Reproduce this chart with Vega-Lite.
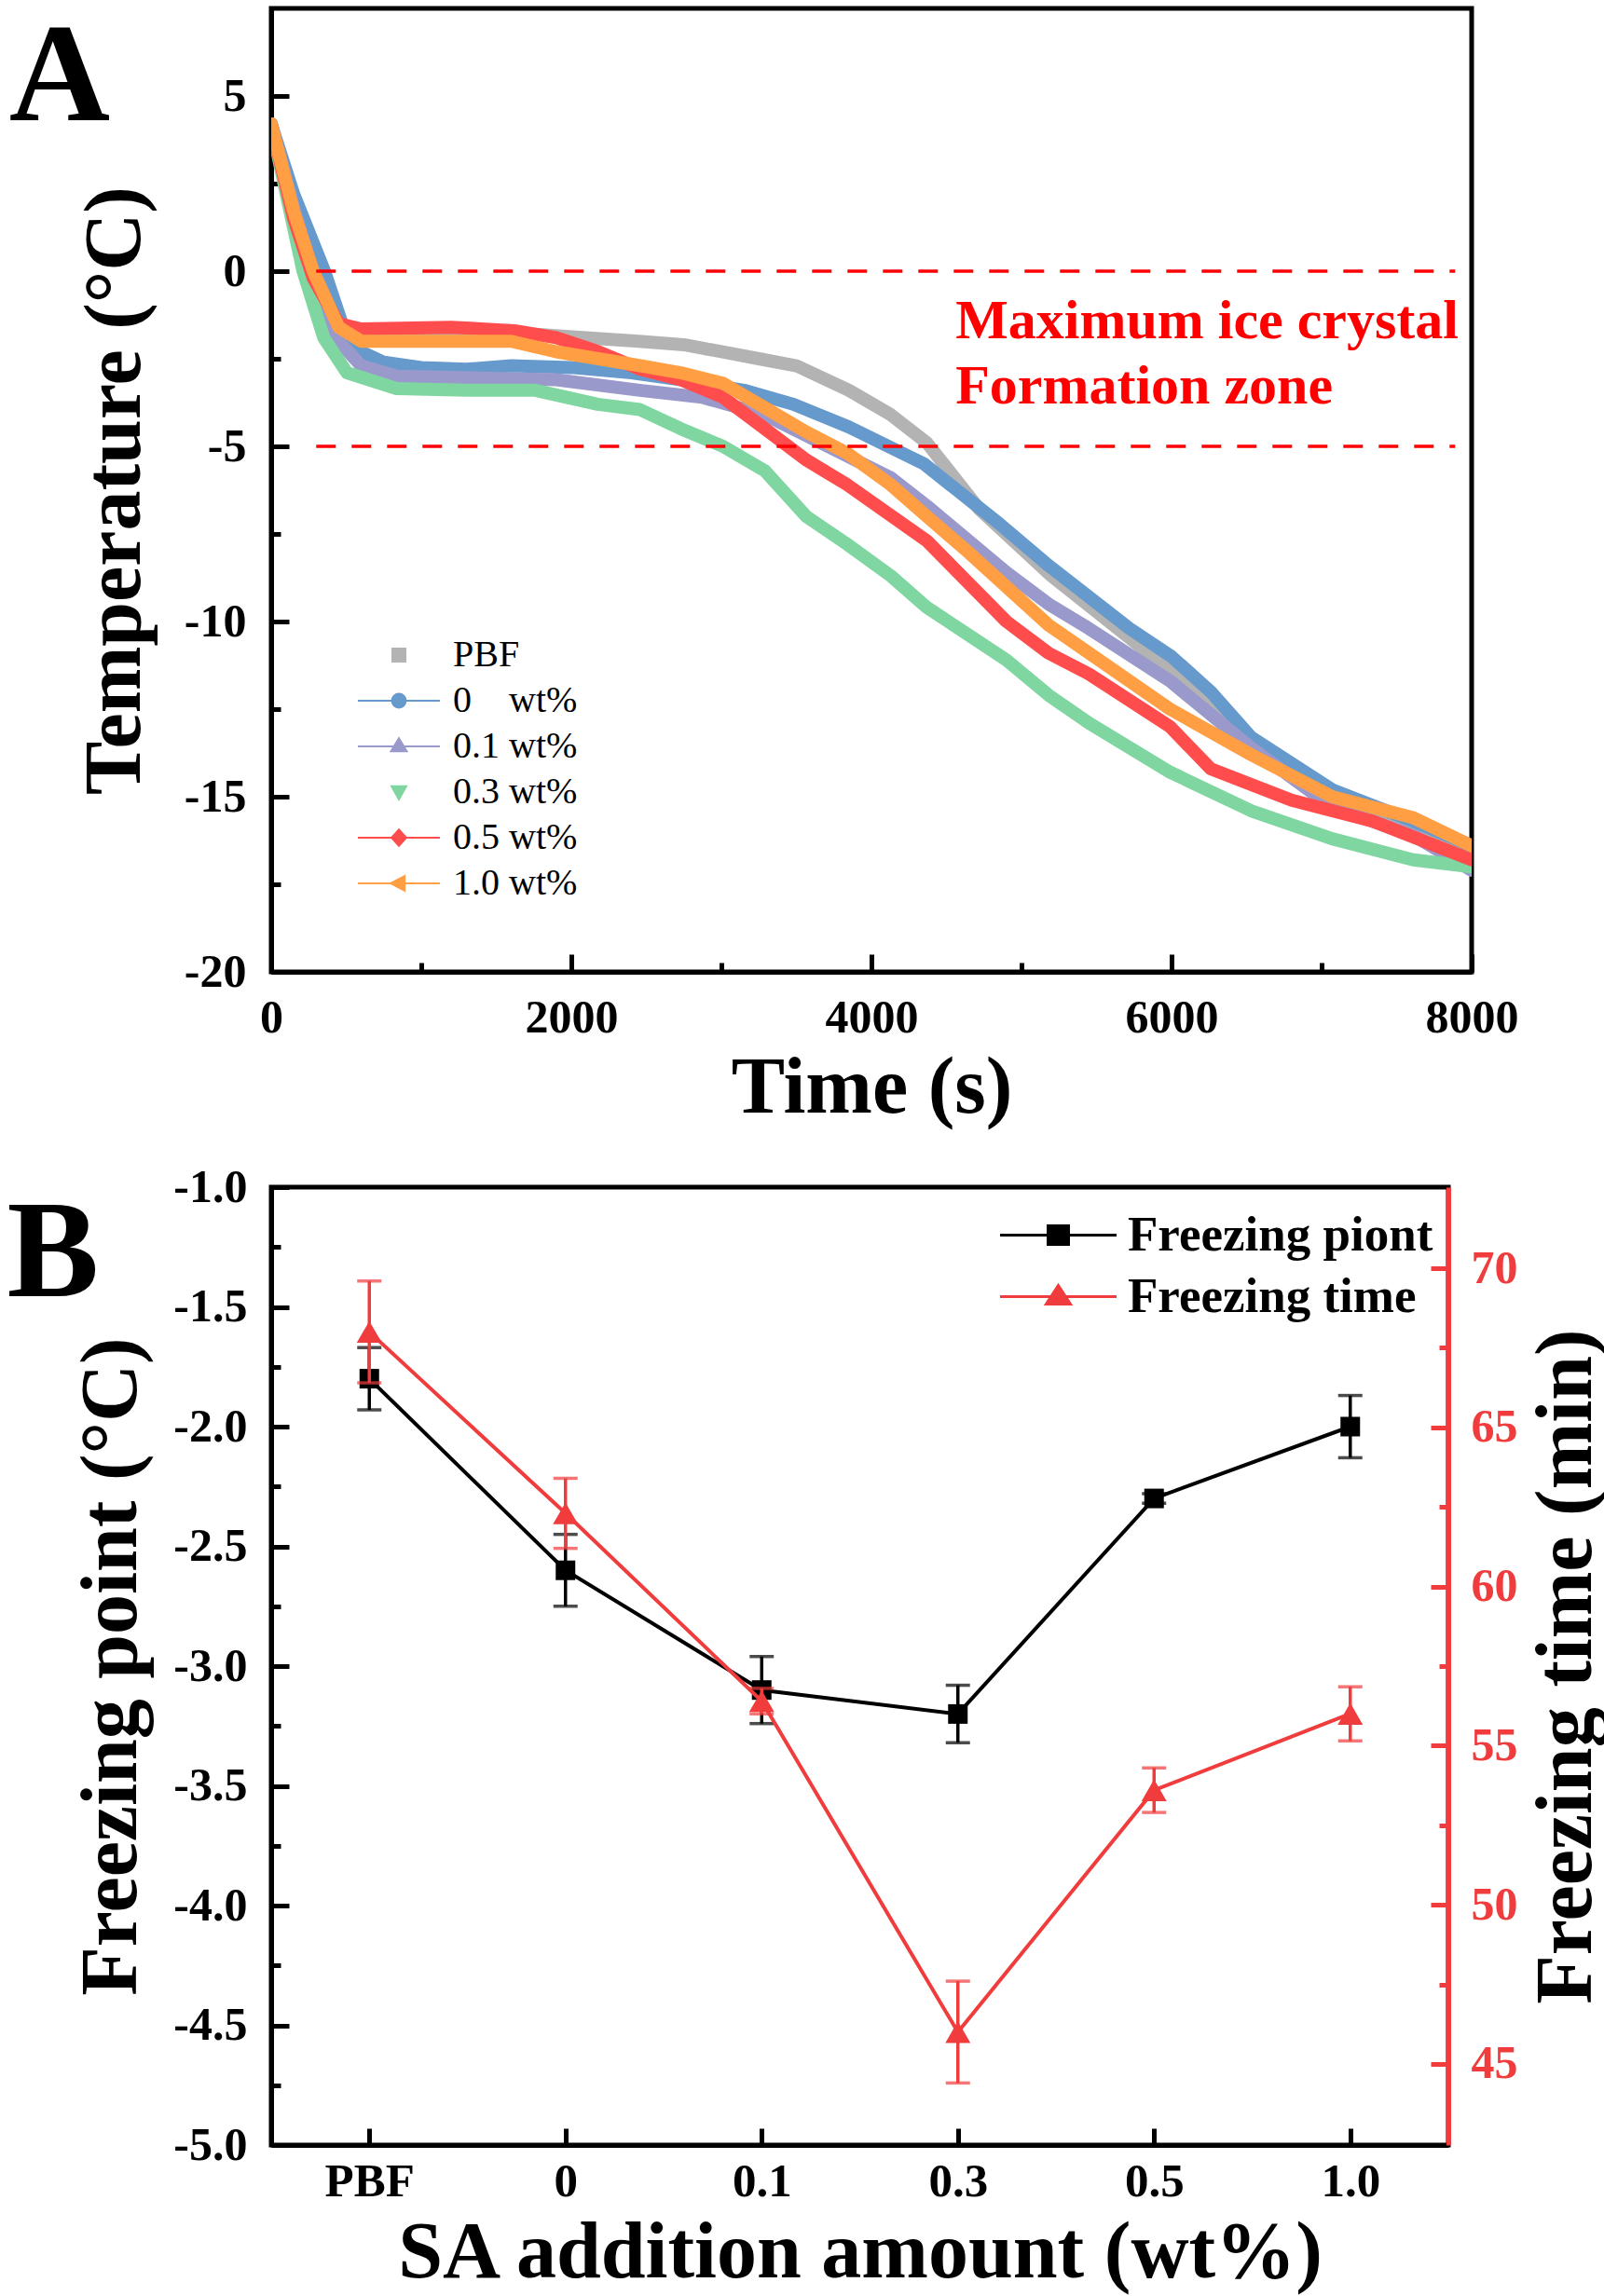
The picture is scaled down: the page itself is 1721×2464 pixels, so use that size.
{
  "$schema": "https://vega.github.io/schema/vega-lite/v6.json",
  "background": "white",
  "padding": {"left": 4, "top": 6, "right": 0, "bottom": 0},
  "spacing": 33,
  "config": {
    "font": "Liberation Serif",
    "view": {"stroke": "black", "strokeWidth": 5},
    "axis": {
      "grid": false, "labelFont": "Liberation Serif", "titleFont": "Liberation Serif",
      "labelFontWeight": "bold", "titleFontWeight": "bold", "labelColor": "black", "titleColor": "black",
      "domainColor": "black", "tickColor": "black", "labelFlush": false, "labelOverlap": false, "zindex": 1
    },
    "legend": {"labelLimit": 1000}
  },
  "resolve": {"scale": {"color": "independent"}, "legend": {"color": "independent"}},
  "vconcat": [
    {
      "width": 1288,
      "height": 1034,
      "title": {"text": "A", "orient": "left", "anchor": "end", "angle": 0, "align": "right", "baseline": "alphabetic", "fontSize": 150, "fontWeight": "bold", "font": "Liberation Serif", "color": "black", "offset": -146, "dy": 120},
      "data": {"values": [
        {"s":"PBF","t":0,"T":4.2},{"s":"PBF","t":150,"T":1.6},{"s":"PBF","t":300,"T":-0.5},{"s":"PBF","t":450,"T":-1.6},{"s":"PBF","t":600,"T":-1.9},{"s":"PBF","t":1000,"T":-1.85},{"s":"PBF","t":1400,"T":-1.8},{"s":"PBF","t":1760,"T":-1.8},{"s":"PBF","t":2100,"T":-1.9},{"s":"PBF","t":2450,"T":-2.0},{"s":"PBF","t":2750,"T":-2.1},{"s":"PBF","t":3000,"T":-2.3},{"s":"PBF","t":3250,"T":-2.5},{"s":"PBF","t":3500,"T":-2.7},{"s":"PBF","t":3850,"T":-3.4},{"s":"PBF","t":4130,"T":-4.1},{"s":"PBF","t":4370,"T":-4.9},{"s":"PBF","t":4720,"T":-6.8},{"s":"PBF","t":5200,"T":-8.7},{"s":"PBF","t":5700,"T":-10.4},{"s":"PBF","t":6250,"T":-12.3},{"s":"PBF","t":6550,"T":-13.5},{"s":"PBF","t":7050,"T":-14.9},{"s":"PBF","t":7600,"T":-15.8},{"s":"PBF","t":8000,"T":-16.6},
        {"s":"0 wt%","t":0,"T":4.2},{"s":"0 wt%","t":150,"T":2.2},{"s":"0 wt%","t":355,"T":0},{"s":"0 wt%","t":480,"T":-1.6},{"s":"0 wt%","t":600,"T":-2.3},{"s":"0 wt%","t":750,"T":-2.6},{"s":"0 wt%","t":1000,"T":-2.75},{"s":"0 wt%","t":1300,"T":-2.8},{"s":"0 wt%","t":1600,"T":-2.7},{"s":"0 wt%","t":2000,"T":-2.75},{"s":"0 wt%","t":2400,"T":-2.9},{"s":"0 wt%","t":2731,"T":-3.1},{"s":"0 wt%","t":3150,"T":-3.4},{"s":"0 wt%","t":3480,"T":-3.8},{"s":"0 wt%","t":3850,"T":-4.45},{"s":"0 wt%","t":4350,"T":-5.5},{"s":"0 wt%","t":4850,"T":-7.2},{"s":"0 wt%","t":5180,"T":-8.4},{"s":"0 wt%","t":5720,"T":-10.2},{"s":"0 wt%","t":6000,"T":-11.0},{"s":"0 wt%","t":6260,"T":-12.0},{"s":"0 wt%","t":6530,"T":-13.3},{"s":"0 wt%","t":7070,"T":-14.8},{"s":"0 wt%","t":7610,"T":-15.7},{"s":"0 wt%","t":8000,"T":-16.4},
        {"s":"0.1 wt%","t":0,"T":4.2},{"s":"0.1 wt%","t":150,"T":1.8},{"s":"0.1 wt%","t":300,"T":-0.4},{"s":"0.1 wt%","t":450,"T":-2.0},{"s":"0.1 wt%","t":600,"T":-2.7},{"s":"0.1 wt%","t":836,"T":-3.0},{"s":"0.1 wt%","t":1400,"T":-3.05},{"s":"0.1 wt%","t":1900,"T":-3.1},{"s":"0.1 wt%","t":2456,"T":-3.4},{"s":"0.1 wt%","t":2870,"T":-3.6},{"s":"0.1 wt%","t":3290,"T":-4.1},{"s":"0.1 wt%","t":3710,"T":-5.0},{"s":"0.1 wt%","t":4130,"T":-5.9},{"s":"0.1 wt%","t":4370,"T":-6.7},{"s":"0.1 wt%","t":4900,"T":-8.6},{"s":"0.1 wt%","t":5180,"T":-9.5},{"s":"0.1 wt%","t":5450,"T":-10.2},{"s":"0.1 wt%","t":5990,"T":-11.7},{"s":"0.1 wt%","t":6530,"T":-13.6},{"s":"0.1 wt%","t":7070,"T":-15.3},{"s":"0.1 wt%","t":7610,"T":-16.1},{"s":"0.1 wt%","t":8000,"T":-17.1},
        {"s":"0.3 wt%","t":0,"T":4.2},{"s":"0.3 wt%","t":100,"T":2.2},{"s":"0.3 wt%","t":212,"T":0},{"s":"0.3 wt%","t":350,"T":-1.9},{"s":"0.3 wt%","t":505,"T":-2.9},{"s":"0.3 wt%","t":836,"T":-3.35},{"s":"0.3 wt%","t":1300,"T":-3.4},{"s":"0.3 wt%","t":1760,"T":-3.4},{"s":"0.3 wt%","t":2176,"T":-3.8},{"s":"0.3 wt%","t":2456,"T":-3.95},{"s":"0.3 wt%","t":2731,"T":-4.5},{"s":"0.3 wt%","t":3011,"T":-5.0},{"s":"0.3 wt%","t":3290,"T":-5.7},{"s":"0.3 wt%","t":3566,"T":-7.0},{"s":"0.3 wt%","t":3840,"T":-7.8},{"s":"0.3 wt%","t":4130,"T":-8.7},{"s":"0.3 wt%","t":4370,"T":-9.6},{"s":"0.3 wt%","t":4900,"T":-11.1},{"s":"0.3 wt%","t":5180,"T":-12.1},{"s":"0.3 wt%","t":5450,"T":-12.9},{"s":"0.3 wt%","t":5990,"T":-14.3},{"s":"0.3 wt%","t":6530,"T":-15.4},{"s":"0.3 wt%","t":7070,"T":-16.2},{"s":"0.3 wt%","t":7610,"T":-16.8},{"s":"0.3 wt%","t":8000,"T":-17.0},
        {"s":"0.5 wt%","t":0,"T":4.2},{"s":"0.5 wt%","t":150,"T":1.5},{"s":"0.5 wt%","t":280,"T":-0.2},{"s":"0.5 wt%","t":450,"T":-1.5},{"s":"0.5 wt%","t":600,"T":-1.65},{"s":"0.5 wt%","t":1200,"T":-1.6},{"s":"0.5 wt%","t":1620,"T":-1.7},{"s":"0.5 wt%","t":1900,"T":-1.9},{"s":"0.5 wt%","t":2180,"T":-2.3},{"s":"0.5 wt%","t":2460,"T":-2.8},{"s":"0.5 wt%","t":2730,"T":-3.1},{"s":"0.5 wt%","t":3010,"T":-3.6},{"s":"0.5 wt%","t":3290,"T":-4.5},{"s":"0.5 wt%","t":3570,"T":-5.4},{"s":"0.5 wt%","t":3840,"T":-6.1},{"s":"0.5 wt%","t":4370,"T":-7.7},{"s":"0.5 wt%","t":4900,"T":-10.0},{"s":"0.5 wt%","t":5180,"T":-10.9},{"s":"0.5 wt%","t":5450,"T":-11.5},{"s":"0.5 wt%","t":5990,"T":-13.0},{"s":"0.5 wt%","t":6260,"T":-14.2},{"s":"0.5 wt%","t":6800,"T":-15.1},{"s":"0.5 wt%","t":7340,"T":-15.7},{"s":"0.5 wt%","t":8000,"T":-16.8},
        {"s":"1.0 wt%","t":0,"T":4.2},{"s":"1.0 wt%","t":150,"T":1.7},{"s":"1.0 wt%","t":280,"T":0},{"s":"1.0 wt%","t":450,"T":-1.6},{"s":"1.0 wt%","t":600,"T":-2.0},{"s":"1.0 wt%","t":1000,"T":-2.0},{"s":"1.0 wt%","t":1600,"T":-2.0},{"s":"1.0 wt%","t":1900,"T":-2.3},{"s":"1.0 wt%","t":2460,"T":-2.7},{"s":"1.0 wt%","t":2730,"T":-2.9},{"s":"1.0 wt%","t":3010,"T":-3.2},{"s":"1.0 wt%","t":3290,"T":-3.9},{"s":"1.0 wt%","t":3570,"T":-4.6},{"s":"1.0 wt%","t":3840,"T":-5.2},{"s":"1.0 wt%","t":4130,"T":-6.1},{"s":"1.0 wt%","t":4370,"T":-7.0},{"s":"1.0 wt%","t":4640,"T":-8.0},{"s":"1.0 wt%","t":5180,"T":-10.1},{"s":"1.0 wt%","t":5990,"T":-12.5},{"s":"1.0 wt%","t":6530,"T":-13.8},{"s":"1.0 wt%","t":7070,"T":-15.0},{"s":"1.0 wt%","t":7610,"T":-15.6},{"s":"1.0 wt%","t":8000,"T":-16.4}
      ]},
      "layer": [
        {
          "mark": {"type": "line", "strokeWidth": 14, "strokeCap": "round", "strokeJoin": "round", "clip": true},
          "encoding": {
            "x": {"field": "t", "type": "quantitative", "scale": {"domain": [0, 8000], "nice": false, "zero": false},
              "axis": {"orient": "bottom", "values": [0, 2000, 4000, 6000, 8000], "title": "Time (s)", "titleFontSize": 86, "labelFontSize": 50, "tickSize": -19, "tickWidth": 5, "domainWidth": 5, "labelPadding": 43, "titlePadding": 8, "format": "d"}},
            "y": {"field": "T", "type": "quantitative", "scale": {"domain": [-20, 7.5], "nice": false, "zero": false},
              "axis": {"orient": "left", "values": [-20, -15, -10, -5, 0, 5], "labelExpr": "(datum.value < 0 ? '-' : '') + abs(datum.value)", "title": "Temperature (°C)", "titleFontSize": 86, "labelFontSize": 50, "tickSize": -19, "tickWidth": 5, "domainWidth": 5, "labelPadding": 46, "titlePadding": 30}},
            "color": {"field": "s", "type": "nominal",
              "scale": {"domain": ["PBF", "0 wt%", "0.1 wt%", "0.3 wt%", "0.5 wt%", "1.0 wt%"], "range": ["#b3b3b3", "#6699cc", "#9999cc", "#7fd6a0", "#ff4d4d", "#ff9e42"]},
              "legend": {
                "orient": "none", "legendX": 117, "legendY": 674, "title": null, "symbolSize": 1239, "labelOffset": 38,
                "labelFontSize": 40, "labelFont": "Liberation Serif", "labelFontWeight": "normal", "labelColor": "black", "rowPadding": 9, "labelLimit": 1000,
                "labelExpr": "datum.label === '0 wt%' ? '0\u00a0\u00a0\u00a0 wt%' : datum.label",
                "encode": {"symbols": {"update": {
                  "shape": {"signal": "datum.value === 'PBF' ? 'M-0.4,-0.4H0.4V0.4H-0.4Z' : datum.value === '0 wt%' ? 'M-2.5,0H2.5M0.42,0A0.42,0.42,0,1,1,-0.42,0A0.42,0.42,0,1,1,0.42,0Z' : datum.value === '0.1 wt%' ? 'M-2.5,0H2.5M0,-0.5L0.48,0.3H-0.48Z' : datum.value === '0.3 wt%' ? 'M-0.45,-0.35H0.45L0,0.45Z' : datum.value === '0.5 wt%' ? 'M-2.5,0H2.5M0,-0.5L0.45,0L0,0.5L-0.45,0Z' : 'M-2.5,0H2.5M-0.5,0L0.35,-0.45V0.45Z'"},
                  "fill": {"signal": "datum.value === 'PBF' ? '#b3b3b3' : datum.value === '0 wt%' ? '#6699cc' : datum.value === '0.1 wt%' ? '#9999cc' : datum.value === '0.3 wt%' ? '#7fd6a0' : datum.value === '0.5 wt%' ? '#ff4d4d' : '#ff9e42'"},
                  "stroke": {"signal": "datum.value === 'PBF' ? '#b3b3b3' : datum.value === '0 wt%' ? '#6699cc' : datum.value === '0.1 wt%' ? '#9999cc' : datum.value === '0.3 wt%' ? '#7fd6a0' : datum.value === '0.5 wt%' ? '#ff4d4d' : '#ff9e42'"},
                  "strokeWidth": {"value": 2},
                  "opacity": {"value": 1}
                }}}
              }}
          }
        },
        {
          "data": {"values": [{"T": 0}, {"T": -5}]},
          "mark": {"type": "rule", "color": "#ff0000", "strokeWidth": 3.5, "strokeDash": [21, 17]},
          "encoding": {
            "x": {"datum": 300, "type": "quantitative", "scale": {"domain": [0, 8000], "nice": false, "zero": false},
              "axis": {"orient": "bottom", "values": [1000, 3000, 5000, 7000], "labels": false, "domain": false, "title": null, "tickSize": -10, "tickWidth": 5}},
            "x2": {"datum": 7890},
            "y": {"field": "T", "type": "quantitative", "scale": {"domain": [-20, 7.5], "nice": false, "zero": false},
              "axis": {"orient": "left", "values": [-17.5, -12.5, -7.5, -2.5, 2.5], "labels": false, "domain": false, "title": null, "tickSize": -10, "tickWidth": 5}}
          }
        },
        {
          "data": {"values": [{"note": "Maximum ice crystal\nFormation zone"}]},
          "mark": {"type": "text", "font": "Liberation Serif", "fontSize": 60, "fontWeight": "bold", "color": "#ff0000", "align": "left", "baseline": "alphabetic", "lineBreak": "\n", "lineHeight": 70},
          "encoding": {
            "text": {"field": "note"},
            "x": {"datum": 4560, "type": "quantitative", "scale": {"domain": [0, 8000], "nice": false, "zero": false}, "axis": null},
            "y": {"datum": -1.91, "type": "quantitative", "scale": {"domain": [-20, 7.5], "nice": false, "zero": false}, "axis": null}
          }
        }
      ],
      "resolve": {"axis": {"x": "independent", "y": "independent"}}
    },
    {
      "width": 1263,
      "height": 1028,
      "title": {"text": "B", "orient": "left", "anchor": "end", "angle": 0, "align": "right", "baseline": "alphabetic", "fontSize": 148, "fontWeight": "bold", "font": "Liberation Serif", "color": "black", "offset": -128, "dy": 142},
      "data": {"values": [
        {"amount": "PBF", "fp": -1.8, "fp_err": 0.13, "ft": 68.0, "ft_err": 1.6},
        {"amount": "0", "fp": -2.6, "fp_err": 0.15, "ft": 62.3, "ft_err": 1.1},
        {"amount": "0.1", "fp": -3.1, "fp_err": 0.14, "ft": 56.4, "ft_err": 0.4},
        {"amount": "0.3", "fp": -3.2, "fp_err": 0.12, "ft": 46.0, "ft_err": 1.6},
        {"amount": "0.5", "fp": -2.3, "fp_err": 0.02, "ft": 53.6, "ft_err": 0.7},
        {"amount": "1.0", "fp": -2.0, "fp_err": 0.13, "ft": 56.0, "ft_err": 0.85}
      ]},
      "layer": [
        {
          "layer": [
            {
              "mark": {"type": "line", "color": "black", "strokeWidth": 4},
              "encoding": {
                "x": {"field": "amount", "type": "ordinal", "sort": ["PBF", "0", "0.1", "0.3", "0.5", "1.0"], "scale": {"type": "point", "padding": 0.5},
                  "axis": {"orient": "bottom", "title": "SA addition amount (wt%)", "titleFontSize": 86, "labelFontSize": 51, "labelAngle": 0, "tickSize": -18, "tickWidth": 5, "domainWidth": 5, "labelPadding": 32, "titlePadding": 9}},
                "y": {"field": "fp", "type": "quantitative", "scale": {"domain": [-5, -1], "nice": false, "zero": false},
                  "axis": {"orient": "left", "values": [-5, -4.5, -4, -3.5, -3, -2.5, -2, -1.5, -1], "labelExpr": "(datum.value < 0 ? '-' : '') + format(abs(datum.value), '.1f')", "title": "Freezing point (°C)", "titleFontSize": 86, "labelFontSize": 50, "tickSize": -19, "tickWidth": 5, "domainWidth": 5, "labelPadding": 45, "titlePadding": 22}},
                "color": {"datum": "Freezing piont", "scale": {"domain": ["Freezing piont", "Freezing time"], "range": ["#000000", "#f03c3c"]},
                  "legend": {
                    "orient": "none", "legendX": 818, "legendY": 25, "title": null, "symbolSize": 2500, "labelOffset": 48,
                    "labelFontSize": 53, "labelFont": "Liberation Serif", "labelFontWeight": "bold", "labelColor": "black", "rowPadding": 12, "labelLimit": 1000,
                    "encode": {"symbols": {"update": {
                      "shape": {"signal": "datum.value === 'Freezing piont' ? 'M-2.5,0H2.5M-0.44,-0.4H0.44V0.4H-0.44Z' : 'M-2.5,0H2.5M0,-0.48L0.52,0.32H-0.52Z'"},
                      "fill": {"signal": "datum.value === 'Freezing piont' ? '#000000' : '#f03c3c'"},
                      "stroke": {"signal": "datum.value === 'Freezing piont' ? '#000000' : '#f03c3c'"},
                      "strokeWidth": {"value": 3},
                      "opacity": {"value": 1}
                    }}}
                  }}
              }
            },
            {
              "mark": {"type": "errorbar", "color": "black", "ticks": {"size": 26, "thickness": 3.5, "color": "black"}, "rule": {"strokeWidth": 3.5, "color": "black"}},
              "encoding": {
                "x": {"field": "amount", "type": "ordinal", "sort": ["PBF", "0", "0.1", "0.3", "0.5", "1.0"]},
                "y": {"field": "fp", "type": "quantitative", "scale": {"domain": [-5, -1], "nice": false, "zero": false}, "axis": null},
                "yError": {"field": "fp_err"}
              }
            },
            {
              "mark": {"type": "point", "shape": "square", "filled": true, "size": 441, "opacity": 1},
              "encoding": {
                "x": {"field": "amount", "type": "ordinal", "sort": ["PBF", "0", "0.1", "0.3", "0.5", "1.0"]},
                "y": {"field": "fp", "type": "quantitative", "scale": {"domain": [-5, -1], "nice": false, "zero": false},
                  "axis": {"orient": "left", "values": [-4.75, -4.25, -3.75, -3.25, -2.75, -2.25, -1.75, -1.25], "labels": false, "domain": false, "title": null, "tickSize": -10, "tickWidth": 5}},
                "color": {"datum": "Freezing piont"}
              }
            }
          ],
          "resolve": {"axis": {"y": "independent"}}
        },
        {
          "layer": [
            {
              "mark": {"type": "line", "color": "#f03c3c", "strokeWidth": 4},
              "encoding": {
                "x": {"field": "amount", "type": "ordinal", "sort": ["PBF", "0", "0.1", "0.3", "0.5", "1.0"]},
                "y": {"field": "ft", "type": "quantitative", "scale": {"domain": [42.45, 72.55], "nice": false, "zero": false},
                  "axis": {"orient": "right", "values": [45, 50, 55, 60, 65, 70], "title": "Freezing time (min)", "titleAngle": 270, "titleBaseline": "top", "titleFontSize": 86, "labelFontSize": 50, "labelColor": "#f03c3c", "domainColor": "#f03c3c", "tickColor": "#f03c3c", "tickSize": -19, "tickWidth": 5, "domainWidth": 5, "labelPadding": 43, "titlePadding": 10}},
                "color": {"datum": "Freezing time"}
              }
            },
            {
              "mark": {"type": "errorbar", "color": "#f03c3c", "ticks": {"size": 26, "thickness": 3.5, "color": "#f03c3c"}, "rule": {"strokeWidth": 3.5, "color": "#f03c3c"}},
              "encoding": {
                "x": {"field": "amount", "type": "ordinal", "sort": ["PBF", "0", "0.1", "0.3", "0.5", "1.0"]},
                "y": {"field": "ft", "type": "quantitative", "scale": {"domain": [42.45, 72.55], "nice": false, "zero": false}, "axis": null},
                "yError": {"field": "ft_err"}
              }
            },
            {
              "mark": {"type": "point", "shape": "triangle-up", "filled": true, "size": 729, "opacity": 1},
              "encoding": {
                "x": {"field": "amount", "type": "ordinal", "sort": ["PBF", "0", "0.1", "0.3", "0.5", "1.0"]},
                "y": {"field": "ft", "type": "quantitative", "scale": {"domain": [42.45, 72.55], "nice": false, "zero": false},
                  "axis": {"orient": "right", "values": [47.5, 52.5, 57.5, 62.5, 67.5], "labels": false, "domain": false, "title": null, "tickSize": -10, "tickWidth": 5, "tickColor": "#f03c3c"}},
                "color": {"datum": "Freezing time"}
              }
            }
          ],
          "resolve": {"axis": {"y": "independent"}}
        }
      ],
      "resolve": {"scale": {"y": "independent"}}
    }
  ]
}
